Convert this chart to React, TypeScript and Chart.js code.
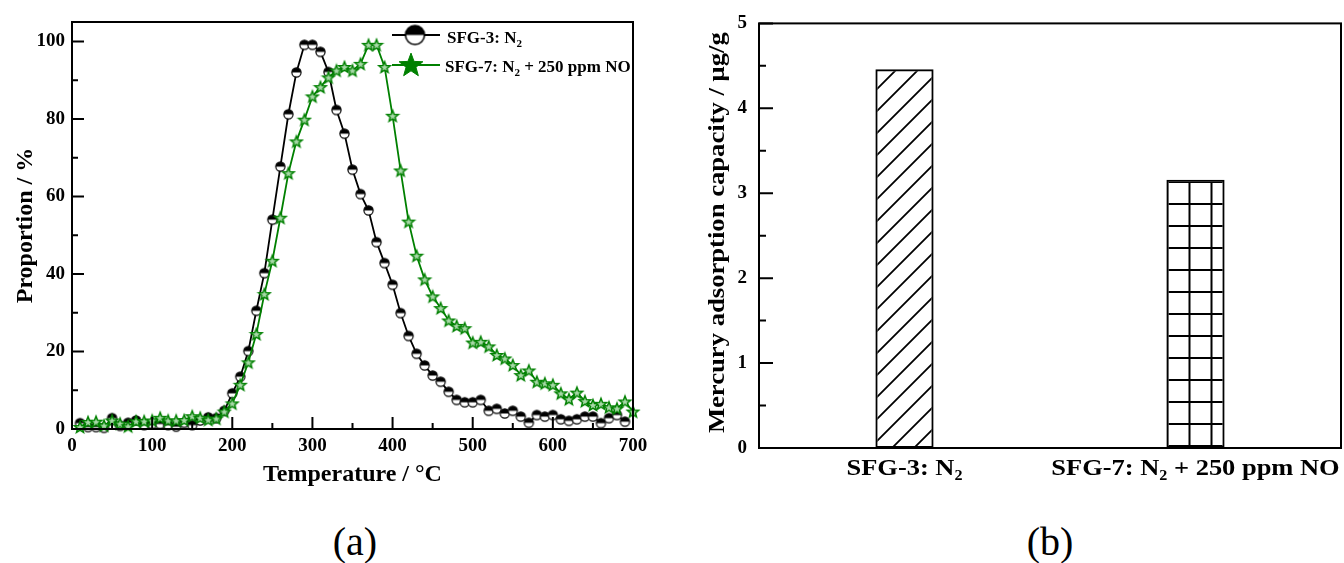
import React, { useEffect, useRef } from 'react';
import { Chart, registerables } from 'chart.js';

Chart.register(...registerables);

const FONT = "'Liberation Serif', 'Times New Roman', serif";
const GREEN = '#008000';

// ---------- (a) desorption profile data ----------
const SFG3_LABEL = 'SFG-3: N₂';
const SFG7_LABEL = 'SFG-7: N₂ + 250 ppm NO';

const SFG3_TEMP = [10, 20, 30, 40, 50, 60, 70, 80, 90, 100, 110, 120, 130, 140, 150, 160, 170, 180, 190, 200,
  210, 220, 230, 240, 250, 260, 270, 280, 290, 300, 310, 320, 330, 340, 350, 360, 370, 380, 390, 400,
  410, 420, 430, 440, 450, 460, 470, 480, 490, 500, 510, 520, 530, 540, 550, 560, 570, 580, 590, 600,
  610, 620, 630, 640, 650, 660, 670, 680, 690];
const SFG3_VALUES = [1.5, 0.5, 0.5, 0.3, 2.8, 0.8, 1.6, 2.2, 1.0, 1.3, 1.3, 1.0, 0.6, 1.6, 1.0, 2.2, 3.0, 2.8, 4.7, 9.2,
  13.5, 20.1, 30.5, 40.2, 54.0, 67.7, 81.2, 92.0, 99.1, 99.1, 97.3, 92.1, 82.3, 76.2, 66.9, 60.6, 56.4, 48.2, 42.8, 37.2,
  29.9, 24.0, 19.4, 16.4, 13.8, 12.2, 9.6, 7.5, 6.9, 6.9, 7.5, 4.7, 5.2, 4.0, 4.7, 3.2, 1.6, 3.6, 3.2, 3.6,
  2.5, 2.1, 2.5, 3.2, 3.2, 1.5, 2.8, 3.6, 1.9];

const SFG7_TEMP = [10, 20, 30, 40, 50, 60, 70, 80, 90, 100, 110, 120, 130, 140, 150, 160, 170, 180, 190, 200,
  210, 220, 230, 240, 250, 260, 270, 280, 290, 300, 310, 320, 330, 340, 350, 360, 370, 380, 390, 400,
  410, 420, 430, 440, 450, 460, 470, 480, 490, 500, 510, 520, 530, 540, 550, 560, 570, 580, 590, 600,
  610, 620, 630, 640, 650, 660, 670, 680, 690, 700];
const SFG7_VALUES = [0.5, 1.8, 1.9, 0.9, 2.2, 1.4, 0.7, 2.0, 2.0, 2.2, 2.9, 2.2, 2.2, 2.3, 3.3, 2.9, 2.4, 2.7, 4.5, 6.6,
  11.4, 17.2, 24.5, 34.8, 43.4, 54.5, 66.0, 74.2, 79.8, 85.8, 88.2, 90.7, 92.5, 93.4, 92.5, 94.2, 99.1, 99.1, 93.4, 80.8,
  66.7, 53.5, 44.7, 38.6, 34.2, 31.2, 28.0, 26.6, 26.0, 22.3, 22.5, 21.3, 19.1, 18.2, 16.5, 13.9, 15.1, 12.2, 11.8, 11.4,
  9.2, 7.7, 9.4, 7.2, 6.2, 6.5, 5.6, 5.3, 7.1, 4.5];

const X_TICKS = [0, 100, 200, 300, 400, 500, 600, 700];
const Y_TICKS = [0, 20, 40, 60, 80, 100];
const X_TITLE = 'Temperature / °C';
const Y_TITLE = 'Proportion / %';

// ---------- (b) adsorption capacity data ----------
const BAR_CATEGORIES = [SFG3_LABEL, SFG7_LABEL];
const BAR_VALUES = [4.46, 3.16];
const BAR_Y_TICKS = [0, 1, 2, 3, 4, 5];
const BAR_Y_TITLE = 'Mercury adsorption capacity / μg/g';

// ---------- helpers ----------
function drawRich(ctx: CanvasRenderingContext2D, text: string, x: number, y: number, size: number,
  align: 'left' | 'center', sx = 1) {
  const segs: { t: string; sub: boolean; w: number }[] = [];
  let buf = '';
  for (const ch of text) {
    if (ch === '₂') {
      if (buf) segs.push({ t: buf, sub: false, w: 0 });
      buf = '';
      segs.push({ t: '2', sub: true, w: 0 });
    } else buf += ch;
  }
  if (buf) segs.push({ t: buf, sub: false, w: 0 });
  const mainFont = `bold ${size}px ${FONT}`;
  const subFont = `bold ${Math.round(size * 0.62)}px ${FONT}`;
  let total = 0;
  for (const s of segs) {
    ctx.font = s.sub ? subFont : mainFont;
    s.w = ctx.measureText(s.t).width;
    total += s.w;
  }
  ctx.save();
  ctx.translate(x, y);
  ctx.scale(sx, 1);
  let cx = align === 'center' ? -total / 2 : 0;
  ctx.textAlign = 'left';
  ctx.textBaseline = 'alphabetic';
  ctx.fillStyle = '#000';
  for (const s of segs) {
    ctx.font = s.sub ? subFont : mainFont;
    ctx.fillText(s.t, cx, s.sub ? size * 0.22 : 0);
    cx += s.w;
  }
  ctx.restore();
}

function makeHalfCircle(r: number, lw: number) {
  const s = Math.ceil(2 * r + lw + 2);
  const c = document.createElement('canvas');
  c.width = s; c.height = s;
  const g = c.getContext('2d')!;
  const m = s / 2;
  g.beginPath(); g.arc(m, m, r, 0, Math.PI * 2); g.fillStyle = '#fff'; g.fill();
  g.beginPath(); g.arc(m, m, r, Math.PI, Math.PI * 2); g.closePath(); g.fillStyle = '#000'; g.fill();
  g.beginPath(); g.arc(m, m, r, 0, Math.PI * 2); g.lineWidth = lw; g.strokeStyle = '#000'; g.stroke();
  return c;
}

function makeStar(R: number, r: number, fill: string, stroke: string, lw: number) {
  const s = Math.ceil(2 * R + lw + 2);
  const c = document.createElement('canvas');
  c.width = s; c.height = s;
  const g = c.getContext('2d')!;
  const m = s / 2;
  g.beginPath();
  for (let i = 0; i < 10; i++) {
    const a = -Math.PI / 2 + (i * Math.PI) / 5;
    const rad = i % 2 ? r : R;
    const px = m + rad * Math.cos(a);
    const py = m + 0.6 + rad * Math.sin(a);
    if (i === 0) g.moveTo(px, py); else g.lineTo(px, py);
  }
  g.closePath();
  g.fillStyle = fill; g.fill();
  g.lineJoin = 'miter';
  g.lineWidth = lw; g.strokeStyle = stroke; g.stroke();
  return c;
}

function makeDiagPattern(ctx: CanvasRenderingContext2D) {
  const t = 22;
  const c = document.createElement('canvas');
  c.width = t; c.height = t;
  const g = c.getContext('2d')!;
  g.strokeStyle = '#000'; g.lineWidth = 1.8;
  g.beginPath();
  g.moveTo(-3, t + 3); g.lineTo(t + 3, -3);
  g.moveTo(-3, 3); g.lineTo(3, -3);
  g.moveTo(t - 3, t + 3); g.lineTo(t + 3, t - 3);
  g.stroke();
  return ctx.createPattern(c, 'repeat')!;
}

function makeGridPattern(ctx: CanvasRenderingContext2D) {
  const t = 22;
  const c = document.createElement('canvas');
  c.width = t; c.height = t;
  const g = c.getContext('2d')!;
  g.fillStyle = '#000';
  g.fillRect(2.5, 0, 2, t);
  g.fillRect(0, 5, t, 2);
  return ctx.createPattern(c, 'repeat')!;
}

function mids(arr: number[]) {
  const out: number[] = [];
  for (let i = 0; i < arr.length - 1; i++) out.push((arr[i] + arr[i + 1]) / 2);
  return out;
}

export default function App() {
  const leftRef = useRef<HTMLCanvasElement>(null);
  const rightRef = useRef<HTMLCanvasElement>(null);

  useEffect(() => {
    const lc = leftRef.current!;
    const rc = rightRef.current!;
    const circle = makeHalfCircle(4.6, 1.2);
    const star = makeStar(6, 2.6, '#a8d8a8', GREEN, 1.5);
    const bigCircle = makeHalfCircle(9.5, 1.6);
    const bigStar = makeStar(12.5, 5.2, GREEN, GREEN, 1);

    const tickFont = { family: FONT, size: 19, weight: 'bold' as const };

    const leftPlugin = {
      id: 'leftFrame',
      afterDraw(chart: any) {
        const { ctx, chartArea: a, scales } = chart;
        const xs = scales.x, ys = scales.y;
        ctx.save();
        ctx.strokeStyle = '#000';
        ctx.lineWidth = 2;
        ctx.strokeRect(a.left, a.top, a.right - a.left, a.bottom - a.top);
        ctx.beginPath();
        for (const v of X_TICKS) {
          const p = xs.getPixelForValue(v);
          ctx.moveTo(p, a.bottom); ctx.lineTo(p, a.bottom - 12);
        }
        for (const v of mids(X_TICKS)) {
          const p = xs.getPixelForValue(v);
          ctx.moveTo(p, a.bottom); ctx.lineTo(p, a.bottom - 6);
        }
        for (const v of Y_TICKS) {
          const p = ys.getPixelForValue(v);
          ctx.moveTo(a.left, p); ctx.lineTo(a.left + 12, p);
        }
        for (const v of mids(Y_TICKS)) {
          const p = ys.getPixelForValue(v);
          ctx.moveTo(a.left, p); ctx.lineTo(a.left + 6, p);
        }
        ctx.stroke();

        // legend
        ctx.lineWidth = 1.8;
        ctx.strokeStyle = '#000';
        ctx.beginPath(); ctx.moveTo(392, 35); ctx.lineTo(440, 35); ctx.stroke();
        ctx.drawImage(bigCircle, 415 - bigCircle.width / 2, 35 - bigCircle.height / 2);
        drawRich(ctx, SFG3_LABEL, 447, 43, 17, 'left');
        ctx.strokeStyle = GREEN;
        ctx.beginPath(); ctx.moveTo(392, 65); ctx.lineTo(440, 65); ctx.stroke();
        ctx.drawImage(bigStar, 411 - bigStar.width / 2, 65 - bigStar.height / 2);
        drawRich(ctx, SFG7_LABEL, 445, 72, 17, 'left');
        ctx.restore();
      },
    };

    const left = new Chart(lc, {
      type: 'line',
      data: {
        datasets: [
          {
            label: SFG3_LABEL,
            data: SFG3_TEMP.map((t, i) => ({ x: t, y: SFG3_VALUES[i] })),
            borderColor: '#000',
            borderWidth: 1.8,
            pointStyle: circle as any,
            pointRadius: 5,
            tension: 0,
            clip: false as any,
            order: 1,
          },
          {
            label: SFG7_LABEL,
            data: SFG7_TEMP.map((t, i) => ({ x: t, y: SFG7_VALUES[i] })),
            borderColor: GREEN,
            borderWidth: 1.8,
            pointStyle: star as any,
            pointRadius: 5,
            tension: 0,
            clip: false as any,
            order: 0,
          },
        ],
      },
      options: {
        responsive: false,
        animation: false,
        devicePixelRatio: 1,
        events: [],
        layout: { padding: { top: 22, right: 47, left: 0, bottom: 0 } },
        plugins: { legend: { display: false }, tooltip: { enabled: false } },
        scales: {
          x: {
            type: 'linear',
            min: 0,
            max: 700,
            afterBuildTicks: (s: any) => { s.ticks = X_TICKS.map((v) => ({ value: v })); },
            afterFit: (s: any) => { s.height = 71; },
            grid: { display: false, drawTicks: false },
            border: { display: false },
            ticks: { color: '#000', font: tickFont, padding: 6, maxRotation: 0, autoSkip: false },
            title: {
              display: true, text: X_TITLE, color: '#000',
              font: { family: FONT, size: 24, weight: 'bold' }, padding: { top: 0, bottom: 11 },
            },
          },
          y: {
            type: 'linear',
            min: 0,
            max: 105,
            afterBuildTicks: (s: any) => { s.ticks = Y_TICKS.map((v) => ({ value: v })); },
            afterFit: (s: any) => { s.width = 72; },
            grid: { display: false, drawTicks: false },
            border: { display: false },
            ticks: { color: '#000', font: tickFont, padding: 7 },
            title: {
              display: true, text: Y_TITLE, color: '#000',
              font: { family: FONT, size: 24, weight: 'bold' }, padding: { top: 11, bottom: 0 },
            },
          },
        },
      } as any,
      plugins: [leftPlugin],
    });

    const rctx = rc.getContext('2d')!;
    const diag = makeDiagPattern(rctx);
    const gridP = makeGridPattern(rctx);

    const rightPlugin = {
      id: 'rightFrame',
      afterDraw(chart: any) {
        const { ctx, chartArea: a, scales } = chart;
        const xs = scales.x, ys = scales.y;
        ctx.save();
        ctx.strokeStyle = '#000';
        ctx.lineWidth = 2;
        ctx.strokeRect(a.left, a.top, a.right - a.left, a.bottom - a.top);
        ctx.beginPath();
        for (const v of BAR_Y_TICKS) {
          const p = ys.getPixelForValue(v);
          ctx.moveTo(a.left, p); ctx.lineTo(a.left + 14, p);
        }
        for (const v of mids(BAR_Y_TICKS)) {
          const p = ys.getPixelForValue(v);
          ctx.moveTo(a.left, p); ctx.lineTo(a.left + 7, p);
        }
        ctx.stroke();
        BAR_CATEGORIES.forEach((c, i) => {
          drawRich(ctx, c, xs.getPixelForValue(i), 475, 23, 'center', 1.15);
        });
        ctx.save();
        ctx.translate(36, (a.top + a.bottom) / 2 - 3);
        ctx.rotate(-Math.PI / 2);
        drawRich(ctx, BAR_Y_TITLE, 0, 8, 24, 'center', 1.11);
        ctx.restore();
        ctx.restore();
      },
    };

    const right = new Chart(rc, {
      type: 'bar',
      data: {
        labels: BAR_CATEGORIES,
        datasets: [
          {
            data: BAR_VALUES,
            backgroundColor: [diag, gridP] as any,
            borderColor: '#000',
            borderWidth: 2,
            borderSkipped: false,
            barPercentage: 0.2,
            categoryPercentage: 1,
          },
        ],
      },
      options: {
        responsive: false,
        animation: false,
        devicePixelRatio: 1,
        events: [],
        layout: { padding: { top: 22, right: 3, left: 0, bottom: 0 } },
        plugins: { legend: { display: false }, tooltip: { enabled: false } },
        scales: {
          x: {
            grid: { display: false, drawTicks: false },
            border: { display: false },
            ticks: { display: false },
            afterFit: (s: any) => { s.height = 52; },
          },
          y: {
            min: 0,
            max: 5,
            afterBuildTicks: (s: any) => { s.ticks = BAR_Y_TICKS.map((v) => ({ value: v })); },
            afterFit: (s: any) => { s.width = 79; },
            grid: { display: false, drawTicks: false },
            border: { display: false },
            ticks: { color: '#000', font: tickFont, padding: 12 },
          },
        },
      } as any,
      plugins: [rightPlugin],
    });

    return () => {
      left.destroy();
      right.destroy();
    };
  }, []);

  const caption = (cx: number): React.CSSProperties => ({
    position: 'absolute',
    left: cx,
    top: 522,
    transform: 'translateX(-50%)',
    font: `40px ${FONT}`,
    lineHeight: '40px',
    whiteSpace: 'nowrap',
    color: '#000',
  });

  return (
    <div style={{ position: 'absolute', left: 0, top: 0, width: 1344, height: 563, background: '#fff', overflow: 'hidden' }}>
      <canvas ref={leftRef} width={680} height={500} style={{ position: 'absolute', left: 0, top: 0, width: 680, height: 500 }} />
      <canvas ref={rightRef} width={664} height={500} style={{ position: 'absolute', left: 680, top: 0, width: 664, height: 500 }} />
      <div style={caption(355)}>(a)</div>
      <div style={caption(1050)}>(b)</div>
    </div>
  );
}
